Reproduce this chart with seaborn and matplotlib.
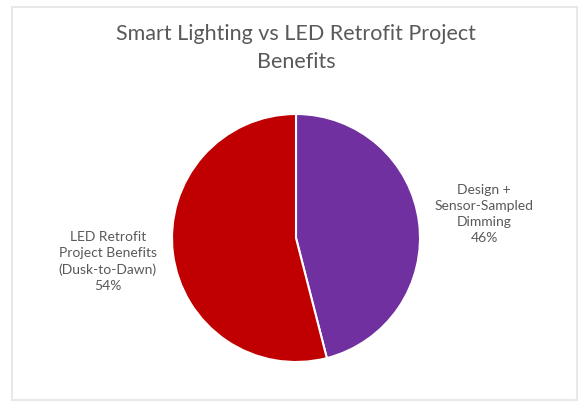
import matplotlib
matplotlib.use("Agg")
import matplotlib.pyplot as plt
import seaborn as sns
from matplotlib.patches import Rectangle

# data
categories = ["Design +\nSensor-Sampled\nDimming", "LED Retrofit\nProject Benefits\n(Dusk-to-Dawn)"]
shares = [46, 54]
slice_colors = ["#7030A0", "#C00000"]
title = "Smart Lighting vs LED Retrofit Project\nBenefits"

sns.set_theme(style="white")
plt.rcParams['font.family'] = ['Lato', 'DejaVu Sans']

W, H = 579, 403
fig = plt.figure(figsize=(W / 100, H / 100), dpi=100)
fig.patch.set_facecolor("white")

# light frame around the chart area
fig.patches.append(Rectangle((12 / W, 1 - 400 / H), 565 / W, 393 / H,
                             transform=fig.transFigure, fill=False,
                             ec="#e8e8e8", lw=1.5))

# circle of radius 124 px centred at (296, 238)
cx, cy, r = 296, 238, 124
span = 1.25
size = 2 * span * r
ax = fig.add_axes([(cx - size / 2) / W, 1 - (cy + size / 2) / H, size / W, size / H])

labels = [f"{c}\n{s}%" for c, s in zip(categories, shares)]
wedges, texts = ax.pie(shares, labels=labels, colors=slice_colors, startangle=90,
                       counterclock=False, labeldistance=1.53,
                       wedgeprops=dict(edgecolor="white", linewidth=1.5),
                       textprops=dict(color="#595959", fontsize=10, ha="center",
                                      multialignment="center", linespacing=1.4))
ax.set_xlim(-span, span)
ax.set_ylim(-span, span)
ax.set_aspect("equal")
ax.axis("off")

fig.text(296 / W, 1 - 48 / H, title, ha="center", va="center", fontsize=15.5,
         color="#595959", linespacing=1.55)

fig.savefig("out.png", dpi=100)
